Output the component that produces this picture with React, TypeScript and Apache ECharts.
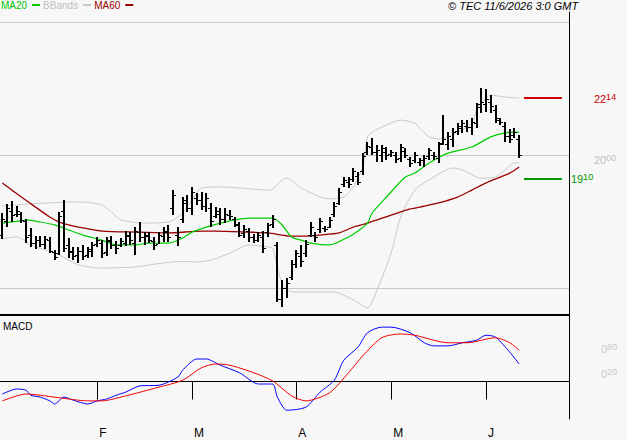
import React, { useEffect, useRef } from "react";
import * as echarts from "echarts";

const FONT = '"Liberation Sans", Arial, sans-serif';

// ---- Calendar (trading days) ----
const START_DATE = [2026, 0, 5];
const HOLIDAYS = ["2026-04-03", "2026-04-06", "2026-05-01"];
const SLOT_COUNT = 120;
const MONTH_LETTERS = ["J", "F", "M", "A", "M", "J", "J", "A", "S", "O", "N", "D"];

function buildDates(start: number[], count: number, holidays: string[]): string[] {
  const out: string[] = [];
  const d = new Date(Date.UTC(start[0], start[1], start[2]));
  while (out.length < count) {
    const wd = d.getUTCDay();
    const s = d.toISOString().slice(0, 10);
    if (wd !== 0 && wd !== 6 && holidays.indexOf(s) < 0) out.push(s);
    d.setUTCDate(d.getUTCDate() + 1);
  }
  return out;
}
const dates = buildDates(START_DATE, SLOT_COUNT, HOLIDAYS);

// ---- Price bars ----
const opens = [1700,1750,1790,1780,1780,1750,1700,1670,1680,1665, 1680,1635,1630,1790,1660,1640,1625,1640,1625,1640, 1665,1670,1635,1675,1660,1660,1670,1695,1670,1710, 1690,1695,1675,1665,1695,1710,1800,1700,1760,1820, 1800,1840,1830,1810,1800,1770,1780,1760,1775,1760, 1735,1705,1715,1690,1680,1690,1710,1740,1660,1460, 1500,1540,1590,1620,1630,1700,1700,1720,1725,1730, 1780,1820,1890,1900,1910,1920,1940,2010,2030,2010, 2000,2010,2005,2000,1990,2015,1985,1980,1975,1980, 1995,2000,1990,2045,2040,2060,2090,2100,2110,2105, 2120,2190,2190,2200,2170,2130,2110,2070,2075,2060];
const highs = [1782,1816,1827,1808,1786,1759,1726,1695,1695,1695, 1692,1643,1786,1831,1688,1654,1654,1662,1654,1673, 1692,1680,1692,1695,1677,1688,1714,1710,1729,1748, 1710,1710,1692,1710,1729,1737,1868,1729,1842,1850, 1880,1857,1861,1857,1820,1804,1801,1801,1793,1767, 1748,1737,1726,1703,1710,1714,1744,1774,1673,1530, 1538,1605,1643,1662,1680,1748,1710,1763,1733,1767, 1823,1876,1917,1917,1951,1936,2007,2049,2064,2038, 2038,2030,2019,2011,2041,2026,1993,2011,1989,2000, 2026,2011,2049,2150,2086,2101,2120,2131,2131,2139, 2195,2252,2248,2226,2188,2139,2124,2098,2101,2075];
const lows = [1684,1729,1748,1767,1744,1669,1654,1647,1654,1647, 1632,1605,1624,1635,1613,1605,1594,1605,1613,1617, 1654,1613,1620,1647,1628,1654,1658,1662,1624,1673, 1662,1669,1643,1665,1673,1673,1774,1658,1744,1786, 1774,1812,1793,1786,1729,1763,1737,1744,1756,1729, 1692,1688,1673,1669,1673,1632,1692,1726,1447,1429, 1462,1530,1575,1579,1617,1692,1673,1707,1710,1726, 1767,1812,1880,1876,1898,1887,1925,2000,2000,1974, 1974,1981,1993,1970,1974,1989,1955,1970,1959,1955, 1981,1981,1970,2038,2019,2030,2075,2083,2086,2075, 2101,2158,2162,2158,2120,2113,2049,2045,2064,1989];
const closes = [1760,1800,1775,1790,1755,1690,1670,1680,1665,1685, 1640,1615,1770,1650,1635,1620,1640,1620,1645,1660, 1680,1630,1680,1660,1650,1675,1700,1680,1715,1690, 1700,1680,1660,1700,1715,1690,1850,1690,1830,1800, 1860,1830,1810,1840,1750,1790,1760,1780,1770,1740, 1700,1720,1690,1680,1700,1650,1735,1760,1460,1500, 1520,1590,1630,1600,1665,1730,1690,1750,1720,1755, 1810,1860,1905,1890,1940,1900,1995,2035,2010,2020, 2025,2000,2010,1985,2030,2000,1970,2000,1980,1990, 2020,1995,2040,2060,2070,2085,2110,2120,2105,2125, 2180,2200,2210,2185,2140,2125,2070,2060,2085,2000];

// ---- Indicators (as [bar index, value]) ----
const ma20 = [[0,1744],[4,1752],[5,1756],[8,1748],[11,1737],[14,1718],[17,1699],[21,1680],[24,1662],[28,1662],[31,1669],[35,1669],[38,1688],[40,1710],[43,1729],[46,1744],[49,1756],[52,1763],[57,1763],[59,1737],[61,1692],[63,1680],[65,1669],[69,1662],[73,1692],[75,1714],[77,1744],[78,1782],[81,1842],[85,1917],[87,1932],[90,1970],[94,2007],[99,2030],[103,2068],[106,2083],[109,2086]];
const ma60 = [[0,1895],[2,1868],[4,1842],[7,1804],[10,1767],[12,1748],[15,1733],[17,1726],[21,1714],[29,1710],[35,1707],[42,1714],[45,1714],[52,1710],[56,1707],[61,1695],[64,1695],[67,1699],[71,1707],[74,1729],[77,1744],[82,1774],[86,1797],[89,1808],[92,1820],[96,1842],[99,1868],[102,1895],[105,1917],[107,1932],[109,1955]];
const bbUpper = [[0,1808],[6,1816],[14,1823],[17,1823],[21,1812],[23,1786],[25,1756],[30,1744],[35,1748],[38,1782],[40,1831],[42,1876],[46,1880],[50,1876],[56,1868],[57,1872],[59,1906],[60,1913],[63,1876],[67,1842],[69,1835],[72,1842],[74,1880],[76,1955],[77,2068],[78,2086],[81,2113],[84,2131],[87,2120],[88,2101],[90,2068],[92,2060],[95,2075],[99,2120],[100,2169],[101,2195],[103,2225],[106,2218],[109,2214]];
const bbLower = [[0,1684],[3,1692],[6,1662],[12,1624],[16,1587],[21,1575],[28,1579],[33,1592],[38,1600],[41,1598],[44,1605],[48,1631],[52,1662],[56,1654],[57,1650],[58,1579],[59,1519],[61,1485],[67,1485],[70,1485],[74,1455],[77,1425],[79,1492],[82,1632],[84,1767],[87,1868],[91,1917],[95,1951],[97,1944],[101,1913],[104,1917],[106,1944],[108,1970],[109,1970]];
const macdLine = [[0,-0.2],[3,-0.12],[5,-0.14],[6,-0.22],[8,-0.25],[10,-0.31],[11,-0.36],[13,-0.25],[15,-0.3],[18,-0.36],[20,-0.31],[22,-0.28],[24,-0.22],[26,-0.17],[29,-0.07],[33,-0.06],[37,0.07],[38,0.18],[41,0.36],[43,0.36],[46,0.26],[50,0.14],[54,-0.04],[57,-0.04],[58,-0.25],[60,-0.46],[64,-0.41],[67,-0.17],[70,0.02],[72,0.34],[75,0.55],[77,0.78],[80,0.87],[82,0.87],[86,0.78],[89,0.62],[91,0.57],[94,0.57],[97,0.62],[100,0.66],[102,0.74],[104,0.71],[107,0.47],[109,0.28]];
const signalLine = [[0,-0.31],[5,-0.2],[8,-0.22],[12,-0.26],[18,-0.31],[21,-0.31],[26,-0.23],[33,-0.09],[38,0.02],[42,0.22],[45,0.28],[48,0.26],[53,0.14],[57,0.01],[61,-0.23],[64,-0.31],[69,-0.18],[73,0.14],[76,0.41],[80,0.7],[84,0.76],[87,0.74],[91,0.66],[94,0.62],[98,0.62],[104,0.7],[107,0.62],[109,0.5]];

// ---- Levels and axis labels ----
const RESISTANCE = 2214;
const SUPPORT = 1910;
const PRICE_GRID_LEVELS = [1500, 2000, 2500];
const PRICE_LABELS = [2000];
const MACD_LABELS = [0.2, 0.6];
const LEVEL_FROM = 110;
const LEVEL_TO = 118;

const isMonthStart = (i: number) => i > 0 && dates[i].slice(5, 7) !== dates[i - 1].slice(5, 7);

const richFor = (color: string) => ({
  a: { fontSize: 11, lineHeight: 12, verticalAlign: "bottom", color, fontFamily: FONT },
  b: { fontSize: 9, lineHeight: 9, verticalAlign: "top", color, fontFamily: FONT },
});
const priceFmt = (v: number) => {
  const s = String(Math.round(v));
  return "{a|" + s.slice(0, 2) + "}{b|" + s.slice(2) + "}";
};
const macdFmt = (v: number) => {
  const s = Number(v).toFixed(2);
  return "{a|" + s.split(".")[0] + "}{b|" + s.split(".")[1] + "}";
};

const levelLine = (level: number, color: string, distance: number) => [
  {
    coord: [dates[LEVEL_FROM], level],
    lineStyle: { color, width: 2, type: "solid" },
    label: {
      show: true,
      position: "end",
      distance,
      formatter: () => priceFmt(level),
      rich: richFor(color),
    },
  },
  { coord: [dates[LEVEL_TO], level] },
];

export default function App() {
  const ref = useRef<HTMLDivElement>(null);
  useEffect(() => {
    if (!ref.current) return;
    const chart = echarts.init(ref.current, null, { renderer: "svg" });
    const barData = highs.map((h, i) => [i, opens[i], closes[i], lows[i], h]);
    const lineBase = {
      type: "line",
      showSymbol: false,
      symbol: "none",
      smooth: 0.25,
      xAxisIndex: 0,
      yAxisIndex: 0,
    };
    chart.setOption({
      animation: false,
      backgroundColor: "#f7f7f7",
      textStyle: { fontFamily: FONT },
      title: [
        {
          text: "© TEC 11/6/2026 3:0 GMT",
          left: 448,
          top: 0,
          padding: 0,
          textStyle: { fontSize: 11, fontStyle: "italic", fontWeight: "normal", color: "#000", fontFamily: FONT },
        },
        {
          text: "MACD",
          left: 3,
          top: 321,
          padding: 0,
          textStyle: { fontSize: 10, fontWeight: "normal", color: "#000", fontFamily: FONT },
        },
      ],
      legend: {
        left: 1,
        top: 0,
        padding: 0,
        itemGap: 3,
        align: "right",
        icon: "rect",
        itemWidth: 8,
        itemHeight: 2,
        selectedMode: false,
        textStyle: { fontSize: 10, fontFamily: FONT },
        data: [
          { name: "MA20", textStyle: { color: "#00cc00" } },
          { name: "BBands", textStyle: { color: "#c0c0c0" } },
          { name: "MA60", textStyle: { color: "#990000" } },
        ],
      },
      grid: [
        { left: 0, top: 12, width: 569, height: 303 },
        { left: 0, top: 316, width: 569, height: 103 },
      ],
      xAxis: [
        {
          type: "category",
          gridIndex: 0,
          data: dates,
          boundaryGap: true,
          axisLine: { show: true, lineStyle: { color: "#000", width: 2 } },
          axisTick: { show: false },
          axisLabel: { show: false },
          splitLine: { show: false },
        },
        {
          type: "category",
          gridIndex: 1,
          data: dates,
          boundaryGap: true,
          axisLine: { show: true, lineStyle: { color: "#000", width: 1 } },
          axisTick: {
            show: true,
            alignWithLabel: true,
            interval: (i: number) => isMonthStart(i),
            length: 18,
            lineStyle: { color: "#000" },
          },
          axisLabel: {
            interval: (i: number) => isMonthStart(i),
            formatter: (v: string) => MONTH_LETTERS[Number(v.slice(5, 7)) - 1],
            align: "left",
            margin: 8,
            fontSize: 12,
            color: "#000",
            fontFamily: FONT,
            padding: [0, 0, 0, 2],
          },
          splitLine: { show: false },
        },
      ],
      yAxis: [
        {
          type: "value",
          gridIndex: 0,
          position: "right",
          min: 1398.5,
          max: 2537.5,
          axisLine: { show: true, lineStyle: { color: "#000" } },
          axisTick: { show: false },
          splitLine: { show: false },
          axisLabel: {
            customValues: PRICE_LABELS,
            formatter: (v: number) => (PRICE_LABELS.indexOf(Math.round(v)) >= 0 ? priceFmt(v) : ""),
            rich: richFor("#c0c0c0"),
            margin: 25,
            padding: [10, 0, 0, 0],
          },
        },
        {
          type: "value",
          gridIndex: 1,
          position: "right",
          min: -0.6,
          max: 1.048,
          axisLine: { show: true, lineStyle: { color: "#000" } },
          axisTick: { show: false },
          splitLine: { show: false },
          axisLabel: {
            customValues: MACD_LABELS,
            formatter: (v: number) => macdFmt(v),
            rich: richFor("#c8c8c8"),
            margin: 32,
            padding: [8, 0, 0, 0],
          },
        },
      ],
      series: [
        {
          name: "BBands",
          ...lineBase,
          data: bbUpper,
          lineStyle: { color: "#c8c8c8", width: 1 },
          itemStyle: { color: "#c8c8c8" },
          z: 1,
          markLine: {
            silent: true,
            symbol: "none",
            z: 0,
            animation: false,
            label: { show: false },
            lineStyle: { color: "#c8c8c8", width: 1, type: "solid" },
            data: PRICE_GRID_LEVELS.map((v) => ({ yAxis: v })),
          },
        },
        {
          name: "BBands",
          ...lineBase,
          data: bbLower,
          lineStyle: { color: "#c8c8c8", width: 1 },
          itemStyle: { color: "#c8c8c8" },
          z: 1,
        },
        {
          name: "MA60",
          ...lineBase,
          data: ma60,
          lineStyle: { color: "#990000", width: 1.3 },
          itemStyle: { color: "#990000" },
          z: 3,
        },
        {
          name: "MA20",
          ...lineBase,
          data: ma20,
          lineStyle: { color: "#00cc00", width: 1.2 },
          itemStyle: { color: "#00cc00" },
          z: 3,
          markLine: {
            silent: true,
            symbol: "none",
            animation: false,
            data: [levelLine(RESISTANCE, "#cc0000", 32), levelLine(SUPPORT, "#009900", 9)],
          },
        },
        {
          name: "Price",
          type: "custom",
          xAxisIndex: 0,
          yAxisIndex: 0,
          z: 4,
          encode: { x: 0, y: [1, 2, 3, 4] },
          data: barData,
          renderItem: (params: any, api: any) => {
            const idx = api.value(0);
            const x = Math.round(api.coord([idx, api.value(4)])[0]);
            const yH = api.coord([idx, api.value(4)])[1];
            const yL = api.coord([idx, api.value(3)])[1];
            const yO = Math.round(api.coord([idx, api.value(1)])[1]);
            const yC = Math.round(api.coord([idx, api.value(2)])[1]);
            const fill = { fill: "#000" };
            return {
              type: "group",
              children: [
                { type: "rect", shape: { x: x - 1, y: Math.round(yH), width: 2, height: Math.max(1, Math.round(yL - yH)) }, style: fill },
                { type: "rect", shape: { x: x - 3, y: yO, width: 2, height: 1 }, style: fill },
                { type: "rect", shape: { x: x + 1, y: yC, width: 2, height: 1 }, style: fill },
              ],
            };
          },
        },
        {
          name: "MACD",
          type: "line",
          showSymbol: false,
          symbol: "none",
          smooth: 0.25,
          xAxisIndex: 1,
          yAxisIndex: 1,
          data: macdLine,
          lineStyle: { color: "#0000ff", width: 1 },
          itemStyle: { color: "#0000ff" },
          z: 3,
        },
        {
          name: "Signal",
          type: "line",
          showSymbol: false,
          symbol: "none",
          smooth: 0.25,
          xAxisIndex: 1,
          yAxisIndex: 1,
          data: signalLine,
          lineStyle: { color: "#ee0000", width: 1 },
          itemStyle: { color: "#ee0000" },
          z: 3,
          markLine: {
            silent: true,
            symbol: "none",
            z: 0,
            animation: false,
            label: { show: false },
            lineStyle: { color: "#c8c8c8", width: 1, type: "solid" },
            data: [{ yAxis: 0 }],
          },
        },
      ],
    });
    return () => chart.dispose();
  }, []);
  return (
    <div
      ref={ref}
      style={{ position: "absolute", left: 0, top: 0, width: 627, height: 440 }}
    />
  );
}
